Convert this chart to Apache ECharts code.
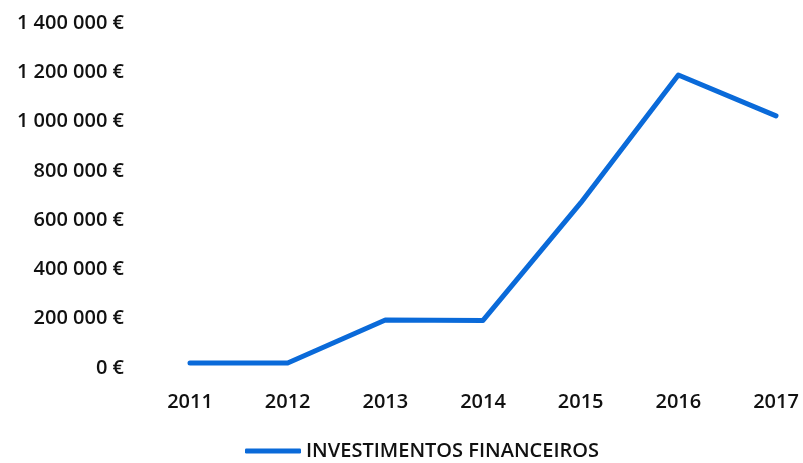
<!DOCTYPE html>
<html>
<head>
<meta charset="utf-8">
<script src="https://cdn.jsdelivr.net/npm/echarts@6/dist/echarts.min.js"></script>
<style>
  html, body { margin: 0; padding: 0; background: #fff; }
  #myChart { width: 803px; height: 463px; }
</style>
</head>
<body>
<div id="myChart"></div>
<script>
// dados
const years = ['2011', '2012', '2013', '2014', '2015', '2016', '2017'];
const investimentos = [20000, 20000, 195000, 193000, 670000, 1189000, 1023000];
const yTicks = [0, 200000, 400000, 600000, 800000, 1000000, 1200000, 1400000];

function fmtEuro(v) {
  return String(v).replace(/\B(?=(\d{3})+(?!\d))/g, ' ') + ' €';
}

let myChart = echarts.init(document.getElementById('myChart'));
let option = {
  animation: false,
  textStyle: { fontFamily: 'Open Sans', color: '#111' },
  grid: { left: 190, right: 27, top: 23, bottom: 95 },
  legend: {
    bottom: -3,
    left: 240,
    itemWidth: 56,
    itemHeight: 5,
    itemGap: 4,
    icon: 'roundRect',
    textStyle: { fontSize: 20, fontWeight: 600, color: '#111', fontFamily: 'Open Sans' },
    data: ['INVESTIMENTOS FINANCEIROS']
  },
  xAxis: {
    type: 'category',
    boundaryGap: false,
    data: years,
    axisLine: { show: false },
    axisTick: { show: false },
    axisLabel: { fontSize: 20, fontWeight: 600, color: '#111', margin: 24 }
  },
  yAxis: {
    type: 'value',
    min: yTicks[0],
    max: yTicks[yTicks.length - 1],
    interval: 200000,
    splitLine: { show: false },
    axisLine: { show: false },
    axisTick: { show: false },
    axisLabel: {
      fontSize: 20,
      fontWeight: 600,
      color: '#111',
      margin: 66,
      formatter: fmtEuro
    }
  },
  series: [
    {
      name: 'INVESTIMENTOS FINANCEIROS',
      type: 'line',
      data: investimentos,
      symbol: 'none',
      lineStyle: { width: 5, color: '#0a6ad9', cap: 'round', join: 'round' },
      itemStyle: { color: '#0a6ad9' }
    }
  ]
};
myChart.setOption(option);
</script>
</body>
</html>
